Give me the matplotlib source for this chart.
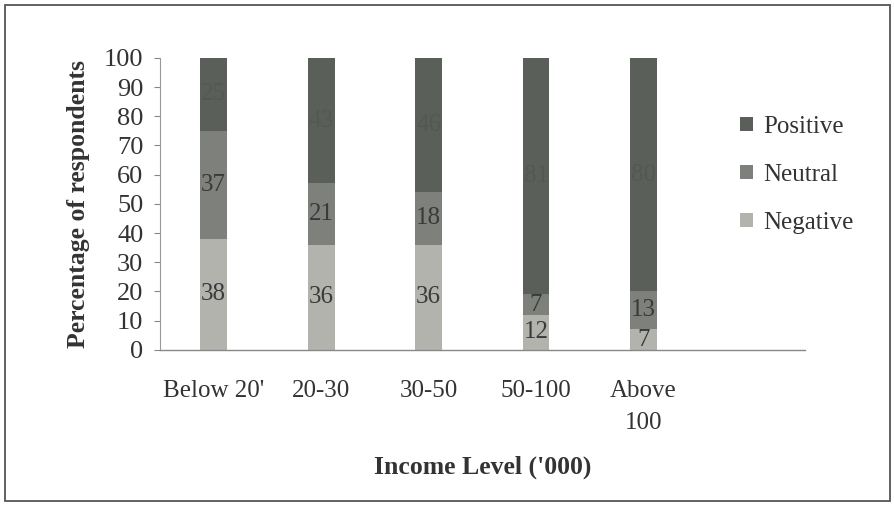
import matplotlib
matplotlib.use("Agg")
import matplotlib.pyplot as plt
from matplotlib.patches import Rectangle
import numpy as np

plt.rcParams['font.family'] = ['Liberation Serif', 'DejaVu Serif']

categories = ["Below 20'", "20-30", "30-50", "50-100", "Above\n100"]
negative = [38, 36, 36, 12, 7]
neutral = [37, 21, 18, 7, 13]
positive = [25, 43, 46, 81, 80]
series_names = ["Positive", "Neutral", "Negative"]
y_ticks = list(range(0, 101, 10))

col_neg = "#b3b3ae"
col_neu = "#7d807b"
col_pos = "#5b5f59"

fig = plt.figure(figsize=(8.94, 5.07), dpi=100)
ax = fig.add_axes([0.179, 0.310, 0.721, 0.576])

x = np.arange(len(categories))
w = 0.25
neg = np.array(negative)
neu = np.array(neutral)
pos = np.array(positive)

b_neg = ax.bar(x, neg, w, color=col_neg, label="Negative")
b_neu = ax.bar(x, neu, w, bottom=neg, color=col_neu, label="Neutral")
b_pos = ax.bar(x, pos, w, bottom=neg + neu, color=col_pos, label="Positive")

fs = 18
for xi, v, b in zip(x, neg, np.zeros(len(x))):
    ax.text(xi, b + v / 2, str(v), ha="center", va="center", fontsize=fs, color="#3a3a3a")
for xi, v, b in zip(x, neu, neg):
    ax.text(xi, b + v / 2, str(v), ha="center", va="center", fontsize=fs, color="#3a3a3a")
for xi, v, b in zip(x, pos, neg + neu):
    ax.text(xi, b + v / 2, str(v), ha="center", va="center", fontsize=fs, color="#545852")

ax.set_xlim(-0.5, 5.5)
ax.set_ylim(0, 100)
ax.set_yticks(y_ticks)
ax.set_yticklabels([str(t) for t in y_ticks], fontsize=19, color="#333333")
ax.set_xticks(x)
ax.set_xticklabels(categories, fontsize=18, color="#333333", linespacing=1.55, va="top")
ax.tick_params(axis="x", length=0, pad=22)
ax.tick_params(axis="y", length=4, width=0.8, color="#888888", pad=8)

for s in ["top", "right"]:
    ax.spines[s].set_visible(False)
ax.spines["left"].set_color("#999999")
ax.spines["left"].set_linewidth(0.8)
ax.spines["bottom"].set_color("#888888")
ax.spines["bottom"].set_linewidth(1.0)

ax.set_ylabel("Percentage of respondents", fontsize=18.5, fontweight="bold",
              color="#333333", labelpad=10)
ax.set_xlabel("Income Level ('000)", fontsize=18.5, fontweight="bold",
              color="#333333", labelpad=16)

handles = [b_pos, b_neu, b_neg]
leg = fig.legend(handles, series_names, loc="center left",
                 bbox_to_anchor=(0.828, 0.655), frameon=False, fontsize=18,
                 handlelength=0.5, handleheight=0.5, handletextpad=0.4,
                 labelspacing=1.05, labelcolor="#333333", borderpad=0, borderaxespad=0)

fig.patches.append(Rectangle((0.006, 0.012), 0.989, 0.978, transform=fig.transFigure,
                             fill=False, edgecolor="#555555", linewidth=1.3))

fig.savefig("out.png", dpi=100, facecolor="white")
